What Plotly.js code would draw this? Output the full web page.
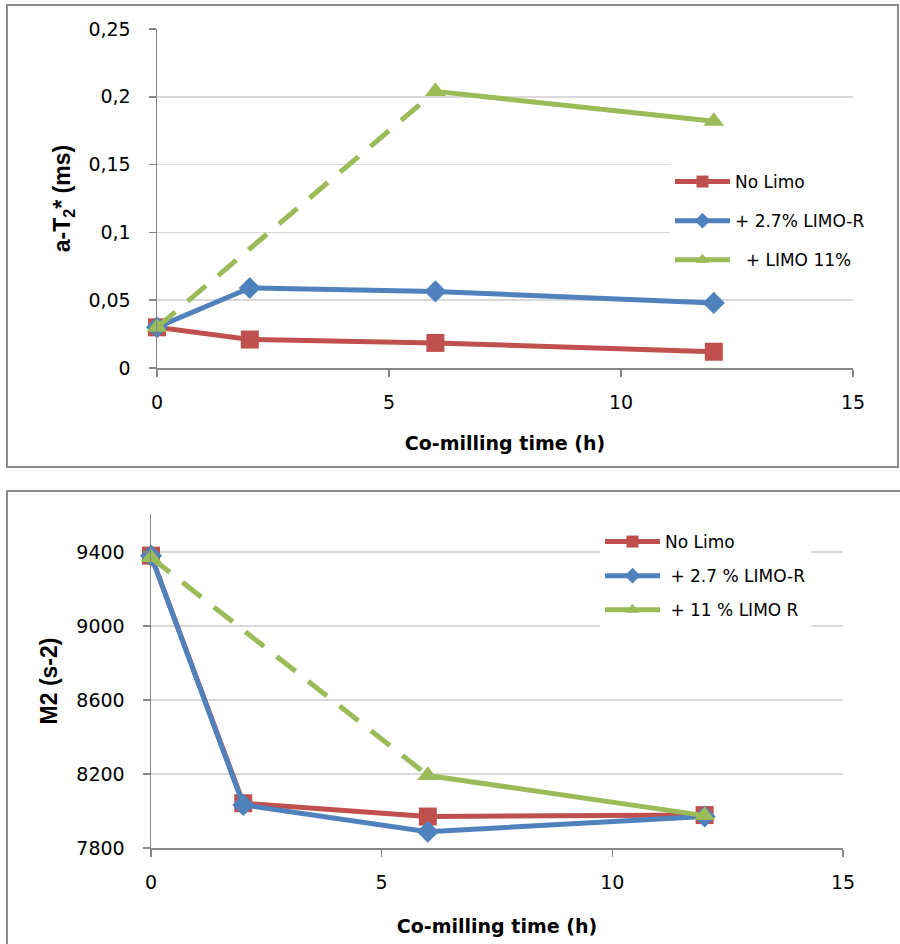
<!DOCTYPE html>
<html>
<head>
<meta charset="utf-8">
<script src="https://cdn.plot.ly/plotly-3.0.1.min.js"></script>
<style>html,body{margin:0;padding:0;background:#fff;}#chart{width:900px;height:944px;}</style>
</head>
<body>
<div id="chart"></div>
<script>
// ---- data ----
const times = [0, 2, 6, 12];
const timesLimo11 = [0, 6, 12];

const t2NoLimo = [0.030, 0.021, 0.0185, 0.012];
const t2LimoR27 = [0.030, 0.059, 0.0565, 0.048];
const t2Limo11 = [0.030, 0.204, 0.182];

const m2NoLimo = [9380, 8042, 7970, 7978];
const m2LimoR27 = [9380, 8033, 7888, 7970];
const m2Limo11 = [9370, 8192, 7975];

const namesTop = ['No Limo', '+ 2.7% LIMO-R', '\u00A0\u00A0+ LIMO 11%'];
const namesBottom = ['No Limo', '\u00A0+ 2.7 % LIMO-R', '\u00A0+ 11 % LIMO R'];

const xTickVals = [0, 5, 10, 15];
const xTickText = ['0', '5', '10', '15'];
const t2TickVals = [0, 0.05, 0.1, 0.15, 0.2, 0.25];
const t2TickText = ['0', '0,05', '0,1', '0,15', '0,2', '0,25'];
const m2TickVals = [7800, 8200, 8600, 9000, 9400];
const m2TickText = ['7800', '8200', '8600', '9000', '9400'];

// ---- styles ----
const RED = '#C0504D', BLUE = '#4F81BD', GREEN = '#9BBB59';
const LW = 5;
const W = 900, H = 944;

function series(x, y, name, color, symbol, size, xa, ya, leg, grp, extra) {
  return Object.assign({
    type: 'scatter', mode: 'lines+markers', x: x, y: y, name: name,
    line: {color: color, width: LW},
    marker: {color: color, symbol: symbol, size: size},
    xaxis: xa, yaxis: ya, legend: leg, legendgroup: grp, cliponaxis: false
  }, extra || {});
}

const dashed = {color: GREEN, width: LW, dash: '24px,16px'};
const traces = [
  series(times, t2NoLimo, namesTop[0], RED, 'square', 18, 'x', 'y', 'legend', 'a'),
  series(times, t2LimoR27, namesTop[1], BLUE, 'diamond', 17, 'x', 'y', 'legend', 'b'),
  series(timesLimo11.slice(0, 2), t2Limo11.slice(0, 2), namesTop[2], GREEN, 'triangle-up', 18, 'x', 'y', 'legend', 'c',
    {showlegend: false, line: dashed}),
  series(timesLimo11.slice(1), t2Limo11.slice(1), namesTop[2], GREEN, 'triangle-up', 18, 'x', 'y', 'legend', 'c'),

  series(times, m2NoLimo, namesBottom[0], RED, 'square', 18, 'x2', 'y2', 'legend2', 'a'),
  series(times, m2LimoR27, namesBottom[1], BLUE, 'diamond', 17, 'x2', 'y2', 'legend2', 'b'),
  series(timesLimo11.slice(0, 2), m2Limo11.slice(0, 2), namesBottom[2], GREEN, 'triangle-up', 18, 'x2', 'y2', 'legend2', 'c',
    {showlegend: false, line: dashed}),
  series(timesLimo11.slice(1), m2Limo11.slice(1), namesBottom[2], GREEN, 'triangle-up', 18, 'x2', 'y2', 'legend2', 'c')
];

const tickFont = {family: 'DejaVu Sans, sans-serif', size: 19, color: '#000'};
const titleFontX = {family: 'DejaVu Sans, sans-serif', size: 19, color: '#000', weight: 'bold'};
const titleFontY = {family: 'Liberation Sans, Arial, sans-serif', size: 23, color: '#000', weight: 'bold'};
const legendFont = {family: 'DejaVu Sans, sans-serif', size: 17, color: '#000'};
const AX = '#868686';

function xAxis(domain, anchor, standoff) {
  return {
    domain: domain, anchor: anchor, range: [0, 15], tickvals: xTickVals, ticktext: xTickText,
    showline: true, linecolor: AX, linewidth: 1.5, ticks: 'outside', ticklen: 7, tickcolor: AX, tickwidth: 1.5,
    showgrid: false, zeroline: false, tickfont: tickFont, ticklabelstandoff: 10,
    title: {text: 'Co-milling time (h)', font: titleFontX, standoff: standoff}
  };
}
function yAxis(domain, anchor, range, vals, text, title, standoff) {
  return {
    domain: domain, anchor: anchor, range: range, tickvals: vals, ticktext: text,
    showline: true, linecolor: AX, linewidth: 1.5, ticks: 'outside', ticklen: 7, tickcolor: AX, tickwidth: 1.5,
    showgrid: true, gridcolor: '#d9d9d9', gridwidth: 1.5, zeroline: false, tickfont: tickFont, ticklabelstandoff: 14,
    title: {text: title, font: titleFontY, standoff: standoff}
  };
}

const layout = {
  width: W, height: H,
  margin: {l: 0, r: 0, t: 0, b: 0},
  paper_bgcolor: '#fff', plot_bgcolor: 'rgba(0,0,0,0)',
  showlegend: true,
  xaxis: xAxis([157 / W, 853 / W], 'y', 24),
  yaxis: yAxis([1 - 368 / H, 1 - 29 / H], 'x', [0, 0.25], t2TickVals, t2TickText, 'a-T<sub>2</sub>* (ms)', 11),
  xaxis2: xAxis([151 / W, 843 / W], 'y2', 27),
  yaxis2: yAxis([1 - 848 / H, 1 - 514 / H], 'x2', [7800, 9605], m2TickVals, m2TickText, 'M2 (s-2)', 12),
  legend: {
    x: 670 / W, y: 1 - 164 / H, xanchor: 'left', yanchor: 'top',
    bgcolor: '#fff', borderwidth: 0, itemwidth: 55, itemsizing: 'constant', tracegroupgap: 14, traceorder: 'grouped',
    font: legendFont
  },
  legend2: {
    x: 600 / W, y: 1 - 524 / H, xanchor: 'left', yanchor: 'top',
    bgcolor: '#fff', borderwidth: 0, itemwidth: 55, itemsizing: 'constant', tracegroupgap: 9, traceorder: 'grouped',
    font: legendFont
  },
  shapes: [
    {type: 'rect', xref: 'paper', yref: 'paper', x0: 7 / W, x1: 898 / W, y0: 1 - 467 / H, y1: 1 - 5 / H,
     line: {color: '#8c8c8c', width: 2}, fillcolor: 'rgba(0,0,0,0)', layer: 'below'},
    {type: 'rect', xref: 'paper', yref: 'paper', x0: 7 / W, x1: 910 / W, y0: -0.02, y1: 1 - 491 / H,
     line: {color: '#8c8c8c', width: 2}, fillcolor: 'rgba(0,0,0,0)', layer: 'below'}
  ]
};

Plotly.newPlot('chart', traces, layout, {displayModeBar: false, staticPlot: true});
</script>
</body>
</html>
